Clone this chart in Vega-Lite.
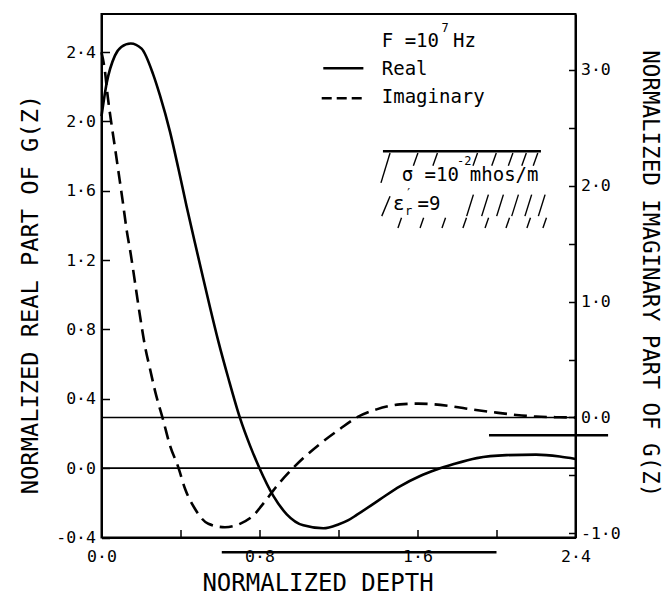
{
  "$schema": "https://vega.github.io/schema/vega-lite/v6.json",
  "autosize": {"type": "none"},
  "padding": {"left": 101.5, "top": 14, "right": 88.5, "bottom": 58.5},
  "width": 474,
  "height": 523.5,
  "background": "white",
  "config": {"view": {"stroke": "black", "strokeWidth": 2}, "font": "DejaVu Sans Mono"},
  "datasets": {
    "real": [
      {"d": 0, "v": 2.03}, {"d": 0.026, "v": 2.22}, {"d": 0.068, "v": 2.38}, {"d": 0.1, "v": 2.43},
      {"d": 0.148, "v": 2.45}, {"d": 0.203, "v": 2.42}, {"d": 0.262, "v": 2.27}, {"d": 0.296, "v": 2.15},
      {"d": 0.347, "v": 1.94}, {"d": 0.389, "v": 1.73}, {"d": 0.431, "v": 1.51}, {"d": 0.473, "v": 1.3},
      {"d": 0.516, "v": 1.09}, {"d": 0.549, "v": 0.93}, {"d": 0.592, "v": 0.73}, {"d": 0.642, "v": 0.52},
      {"d": 0.701, "v": 0.29}, {"d": 0.752, "v": 0.13}, {"d": 0.8, "v": 0.0}, {"d": 0.87, "v": -0.16},
      {"d": 0.938, "v": -0.266}, {"d": 1.022, "v": -0.33}, {"d": 1.123, "v": -0.347}, {"d": 1.199, "v": -0.325},
      {"d": 1.25, "v": -0.3}, {"d": 1.292, "v": -0.27}, {"d": 1.41, "v": -0.18}, {"d": 1.511, "v": -0.105},
      {"d": 1.613, "v": -0.045}, {"d": 1.697, "v": -0.008}, {"d": 1.78, "v": 0.022}, {"d": 1.9, "v": 0.058},
      {"d": 2.05, "v": 0.075}, {"d": 2.2, "v": 0.078}, {"d": 2.32, "v": 0.067}, {"d": 2.4, "v": 0.053}
    ],
    "imag": [
      {"d": 0, "v": 3.15}, {"d": 0.018, "v": 2.98}, {"d": 0.03, "v": 2.79}, {"d": 0.048, "v": 2.56},
      {"d": 0.068, "v": 2.33}, {"d": 0.085, "v": 2.13}, {"d": 0.107, "v": 1.87}, {"d": 0.128, "v": 1.61},
      {"d": 0.148, "v": 1.41}, {"d": 0.17, "v": 1.16}, {"d": 0.195, "v": 0.875}, {"d": 0.22, "v": 0.617},
      {"d": 0.246, "v": 0.416}, {"d": 0.271, "v": 0.23}, {"d": 0.313, "v": -0.027}, {"d": 0.347, "v": -0.243},
      {"d": 0.389, "v": -0.43}, {"d": 0.423, "v": -0.615}, {"d": 0.473, "v": -0.787}, {"d": 0.541, "v": -0.917},
      {"d": 0.625, "v": -0.946}, {"d": 0.701, "v": -0.917}, {"d": 0.777, "v": -0.831}, {"d": 0.811, "v": -0.76},
      {"d": 0.904, "v": -0.558}, {"d": 1.022, "v": -0.35}, {"d": 1.106, "v": -0.228}, {"d": 1.208, "v": -0.098},
      {"d": 1.292, "v": 0.0}, {"d": 1.393, "v": 0.07}, {"d": 1.511, "v": 0.113}, {"d": 1.604, "v": 0.12},
      {"d": 1.68, "v": 0.114}, {"d": 1.765, "v": 0.098}, {"d": 1.882, "v": 0.068}, {"d": 2.0, "v": 0.042},
      {"d": 2.1, "v": 0.022}, {"d": 2.2, "v": 0.008}, {"d": 2.32, "v": 0.002}, {"d": 2.4, "v": 0.0}
    ],
    "thin": [
      {"d": 1.415, "v": 1.646, "d2": 1.461, "v2": 1.818},
      {"d": 1.579, "v": 1.744, "d2": 1.602, "v2": 1.818},
      {"d": 1.678, "v": 1.744, "d2": 1.701, "v2": 1.818},
      {"d": 1.881, "v": 1.744, "d2": 1.904, "v2": 1.818},
      {"d": 1.976, "v": 1.744, "d2": 1.999, "v2": 1.818},
      {"d": 2.06, "v": 1.744, "d2": 2.083, "v2": 1.818},
      {"d": 2.128, "v": 1.744, "d2": 2.151, "v2": 1.818},
      {"d": 2.186, "v": 1.744, "d2": 2.209, "v2": 1.818},
      {"d": 1.419, "v": 1.454, "d2": 1.461, "v2": 1.569},
      {"d": 1.849, "v": 1.454, "d2": 1.883, "v2": 1.578},
      {"d": 1.925, "v": 1.454, "d2": 1.959, "v2": 1.578},
      {"d": 2.001, "v": 1.454, "d2": 2.035, "v2": 1.578},
      {"d": 2.077, "v": 1.454, "d2": 2.111, "v2": 1.578},
      {"d": 2.144, "v": 1.454, "d2": 2.178, "v2": 1.578},
      {"d": 2.212, "v": 1.454, "d2": 2.246, "v2": 1.578},
      {"d": 1.501, "v": 1.386, "d2": 1.519, "v2": 1.444},
      {"d": 1.613, "v": 1.386, "d2": 1.631, "v2": 1.444},
      {"d": 1.724, "v": 1.386, "d2": 1.742, "v2": 1.444},
      {"d": 1.83, "v": 1.386, "d2": 1.848, "v2": 1.444},
      {"d": 1.942, "v": 1.386, "d2": 1.96, "v2": 1.444},
      {"d": 2.048, "v": 1.386, "d2": 2.066, "v2": 1.444},
      {"d": 2.154, "v": 1.386, "d2": 2.172, "v2": 1.444},
      {"d": 2.235, "v": 1.386, "d2": 2.253, "v2": 1.444}
    ],
    "thick": [
      {"d": 1.425, "v": 1.828, "d2": 2.225, "v2": 1.828},
      {"d": 1.123, "v": 2.307, "d2": 1.326, "v2": 2.307},
      {"d": 1.962, "v": 0.19, "d2": 2.565, "v2": 0.19},
      {"d": 0.609, "v": -0.485, "d2": 2.0, "v2": -0.485}
    ],
    "dashleg": [
      {"d": 1.115, "v": 2.134, "d2": 1.326, "v2": 2.134}
    ],
    "txt": [
      {"d": 1.419, "v": 2.431, "t": "F =10"},
      {"d": 1.78, "v": 2.431, "t": "Hz"},
      {"d": 1.419, "v": 2.268, "t": "Real"},
      {"d": 1.419, "v": 2.105, "t": "Imaginary"},
      {"d": 1.52, "v": 1.655, "t": "σ =10"},
      {"d": 1.865, "v": 1.655, "t": "mhos/m"},
      {"d": 1.476, "v": 1.492, "t": "ε"},
      {"d": 1.6, "v": 1.492, "t": "=9"}
    ],
    "small": [
      {"d": 1.722, "v": 2.515, "t": "7"},
      {"d": 1.8, "v": 1.75, "t": "-2"},
      {"d": 1.537, "v": 1.462, "t": "r"},
      {"d": 1.537, "v": 1.565, "t": "′"}
    ]
  },
  "layer": [
    {
      "layer": [
        {
          "data": {"name": "real"},
          "mark": {"type": "line", "interpolate": "monotone", "color": "black", "strokeWidth": 2.6},
          "encoding": {
            "x": {
              "field": "d", "type": "quantitative",
              "scale": {"domain": [0, 2.4], "nice": false, "zero": false},
              "axis": {
                "values": [0, 0.4, 0.8, 1.2, 1.6, 2.0, 2.4],
                "labelExpr": "round(datum.value*10) % 8 == 0 ? replace(format(datum.value, '.1f'), '.', '·') : ''",
                "title": "NORMALIZED DEPTH",
                "titleX": 216, "titleY": 52.5, "titleBaseline": "alphabetic", "titleAlign": "center",
                "titleFont": "DejaVu Sans Mono", "titleFontSize": 24, "titleFontWeight": "normal", "titleColor": "black",
                "tickSize": -8, "tickWidth": 1.5, "tickColor": "black",
                "domainColor": "black", "domainWidth": 2,
                "labelPadding": 19, "labelFont": "DejaVu Sans Mono", "labelFontSize": 16.5, "labelColor": "black",
                "labelFlush": false, "labelOverlap": false, "grid": false
              }
            },
            "y": {
              "field": "v", "type": "quantitative",
              "scale": {"domain": [-0.4, 2.62], "nice": false, "zero": false},
              "axis": {
                "orient": "left",
                "values": [-0.4, -0.2, 0, 0.2, 0.4, 0.6, 0.8, 1.0, 1.2, 1.4, 1.6, 1.8, 2.0, 2.2, 2.4],
                "labelExpr": "round(datum.value*10) % 4 == 0 ? (datum.value < 0 ? '-' : '') + replace(format(abs(datum.value), '.1f'), '.', '·') : ''",
                "title": "NORMALIZED REAL PART OF G(Z)",
                "titleX": -64, "titleY": 280, "titleAngle": -90, "titleBaseline": "alphabetic", "titleAlign": "center",
                "titleFont": "DejaVu Sans Mono", "titleFontSize": 23.7, "titleFontWeight": "normal", "titleColor": "black",
                "tickSize": -8, "tickWidth": 1.5, "tickColor": "black",
                "domainColor": "black", "domainWidth": 2,
                "labelPadding": 14, "labelFont": "DejaVu Sans Mono", "labelFontSize": 16.5, "labelColor": "black",
                "labelFlush": false, "labelOverlap": false, "grid": false
              }
            }
          }
        },
        {
          "data": {"values": [{"v": 0}]},
          "mark": {"type": "rule", "color": "black", "strokeWidth": 1.6},
          "encoding": {
            "y": {"field": "v", "type": "quantitative", "scale": {"domain": [-0.4, 2.62], "nice": false, "zero": false}}
          }
        },
        {
          "data": {"name": "thin"},
          "mark": {"type": "rule", "color": "black", "strokeWidth": 1.4},
          "encoding": {
            "x": {"field": "d", "type": "quantitative", "scale": {"domain": [0, 2.4], "nice": false, "zero": false}},
            "x2": {"field": "d2"},
            "y": {"field": "v", "type": "quantitative", "scale": {"domain": [-0.4, 2.62], "nice": false, "zero": false}},
            "y2": {"field": "v2"}
          }
        },
        {
          "data": {"name": "thick"},
          "mark": {"type": "rule", "color": "black", "strokeWidth": 2.6},
          "encoding": {
            "x": {"field": "d", "type": "quantitative", "scale": {"domain": [0, 2.4], "nice": false, "zero": false}},
            "x2": {"field": "d2"},
            "y": {"field": "v", "type": "quantitative", "scale": {"domain": [-0.4, 2.62], "nice": false, "zero": false}},
            "y2": {"field": "v2"}
          }
        },
        {
          "data": {"name": "dashleg"},
          "mark": {"type": "rule", "color": "black", "strokeWidth": 2.6, "strokeDash": [10, 5]},
          "encoding": {
            "x": {"field": "d", "type": "quantitative", "scale": {"domain": [0, 2.4], "nice": false, "zero": false}},
            "x2": {"field": "d2"},
            "y": {"field": "v", "type": "quantitative", "scale": {"domain": [-0.4, 2.62], "nice": false, "zero": false}},
            "y2": {"field": "v2"}
          }
        },
        {
          "data": {"name": "txt"},
          "mark": {"type": "text", "align": "left", "baseline": "alphabetic", "font": "DejaVu Sans Mono", "fontSize": 19, "color": "black"},
          "encoding": {
            "x": {"field": "d", "type": "quantitative", "scale": {"domain": [0, 2.4], "nice": false, "zero": false}},
            "y": {"field": "v", "type": "quantitative", "scale": {"domain": [-0.4, 2.62], "nice": false, "zero": false}},
            "text": {"field": "t"}
          }
        },
        {
          "data": {"name": "small"},
          "mark": {"type": "text", "align": "left", "baseline": "alphabetic", "font": "DejaVu Sans Mono", "fontSize": 12, "color": "black"},
          "encoding": {
            "x": {"field": "d", "type": "quantitative", "scale": {"domain": [0, 2.4], "nice": false, "zero": false}},
            "y": {"field": "v", "type": "quantitative", "scale": {"domain": [-0.4, 2.62], "nice": false, "zero": false}},
            "text": {"field": "t"}
          }
        }
      ]
    },
    {
      "layer": [
        {
          "data": {"name": "imag"},
          "mark": {"type": "line", "interpolate": "monotone", "color": "black", "strokeWidth": 2.6, "strokeDash": [13, 7]},
          "encoding": {
            "x": {"field": "d", "type": "quantitative", "scale": {"domain": [0, 2.4], "nice": false, "zero": false}},
            "y": {
              "field": "v", "type": "quantitative",
              "scale": {"domain": [-1.035, 3.48], "nice": false, "zero": false},
              "axis": {
                "orient": "right",
                "values": [-1, -0.5, 0, 0.5, 1, 1.5, 2, 2.5, 3],
                "labelExpr": "round(datum.value*2) % 2 == 0 ? (datum.value < 0 ? '-' : '') + replace(format(abs(datum.value), '.1f'), '.', '·') : ''",
                "title": "NORMALIZED IMAGINARY PART OF G(Z)",
                "titleX": 67, "titleY": 259.3, "titleAngle": 90, "titleBaseline": "alphabetic", "titleAlign": "center",
                "titleFont": "DejaVu Sans Mono", "titleFontSize": 22.5, "titleFontWeight": "normal", "titleColor": "black",
                "tickSize": -7, "tickWidth": 1.5, "tickColor": "black",
                "domainColor": "black", "domainWidth": 2,
                "labelPadding": 12, "labelFont": "DejaVu Sans Mono", "labelFontSize": 16.5, "labelColor": "black",
                "labelFlush": false, "labelOverlap": false, "grid": false
              }
            }
          }
        },
        {
          "data": {"values": [{"v": 0}]},
          "mark": {"type": "rule", "color": "black", "strokeWidth": 1.6},
          "encoding": {
            "y": {"field": "v", "type": "quantitative", "scale": {"domain": [-1.035, 3.48], "nice": false, "zero": false}}
          }
        }
      ]
    }
  ],
  "resolve": {"scale": {"y": "independent"}, "axis": {"y": "independent"}}
}
